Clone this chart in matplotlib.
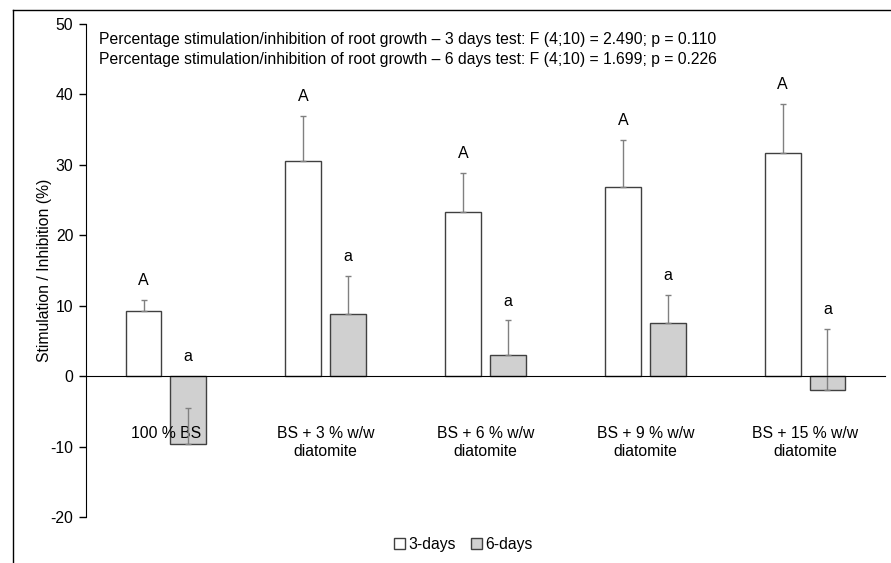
import numpy as np
import matplotlib
matplotlib.use("Agg")
import matplotlib.pyplot as plt
from matplotlib.lines import Line2D
from matplotlib.patches import Patch

plt.rcParams['font.family'] = ['Liberation Sans', 'DejaVu Sans']
plt.rcParams['font.size'] = 11.3
plt.rcParams['axes.unicode_minus'] = False

# data
categories = ["100 % BS", "BS + 3 % w/w\ndiatomite", "BS + 6 % w/w\ndiatomite",
              "BS + 9 % w/w\ndiatomite", "BS + 15 % w/w\ndiatomite"]
days3 = [9.3, 30.6, 23.3, 26.9, 31.7]
days3_err = [1.5, 6.4, 5.5, 6.6, 6.9]
days6 = [-9.6, 8.8, 3.0, 7.5, -2.0]
days6_err = [5.1, 5.4, 4.9, 4.0, 8.7]
letters3 = ["A", "A", "A", "A", "A"]
letters6 = ["a", "a", "a", "a", "a"]
stats_text = ("Percentage stimulation/inhibition of root growth \u2013 3 days test: F (4;10) = 2.490; p = 0.110\n"
              "Percentage stimulation/inhibition of root growth \u2013 6 days test: F (4;10) = 1.699; p = 0.226")

fig = plt.figure(figsize=(8.91, 5.63), dpi=100)
ax = fig.add_axes([0.0965, 0.0817, 0.8968, 0.8757])

x = np.arange(len(categories))
w = 0.225
off = 0.14
edge = "#404040"
errkw = dict(ecolor="#808080", elinewidth=1, capsize=2.5, capthick=1)

ax.bar(x - off, days3, w, color="white", edgecolor=edge, linewidth=1,
       yerr=[np.zeros(len(x)), days3_err], error_kw=errkw, label="3-days")
ax.bar(x + off, days6, w, color="#d0d0d0", edgecolor=edge, linewidth=1,
       yerr=[np.zeros(len(x)), days6_err], error_kw=errkw, label="6-days")

# significance letters above the error bars
for i in range(len(x)):
    top3 = max(days3[i] + days3_err[i], 0)
    top6 = max(days6[i] + days6_err[i], 0)
    ax.text(x[i] - off, top3 + 1.7, letters3[i], ha="center", va="bottom", fontsize=11.5)
    ax.text(x[i] + off, top6 + 1.7, letters6[i], ha="center", va="bottom", fontsize=11.5)

ax.set_xlim(-0.5, 4.5)
ax.set_ylim(-20, 50)
ax.set_yticks(np.arange(-20, 51, 10))
ax.set_xticks(x)
ax.set_xticklabels(categories, linespacing=1.2)
ax.tick_params(axis="x", length=0, pad=36)
ax.tick_params(axis="y", length=5, width=1, direction="out", pad=4)
ax.spines["top"].set_visible(False)
ax.spines["right"].set_visible(False)
ax.spines["bottom"].set_position(("data", 0))
ax.set_ylabel("Stimulation / Inhibition (%)")
ax.yaxis.set_label_coords(-0.043, 0.5)

ax.text(0.016, 0.983, stats_text, transform=ax.transAxes, ha="left", va="top",
        linespacing=1.38)

handles = [Patch(facecolor="white", edgecolor=edge), Patch(facecolor="#d0d0d0", edgecolor=edge)]
fig.legend(handles, ["3-days", "6-days"], loc="center", bbox_to_anchor=(0.52, 0.033),
           ncol=2, frameon=False, handlelength=0.7, handleheight=0.7,
           handletextpad=0.2, columnspacing=1.0)

# outer frame (left and top edges visible)
fig.add_artist(Line2D([13 / 891, 13 / 891], [0, 1 - 10 / 563], color="black", lw=1.0,
                      transform=fig.transFigure))
fig.add_artist(Line2D([13 / 891, 1], [1 - 10 / 563, 1 - 10 / 563], color="black", lw=1.0,
                      transform=fig.transFigure))

fig.savefig("out.png", dpi=100)
